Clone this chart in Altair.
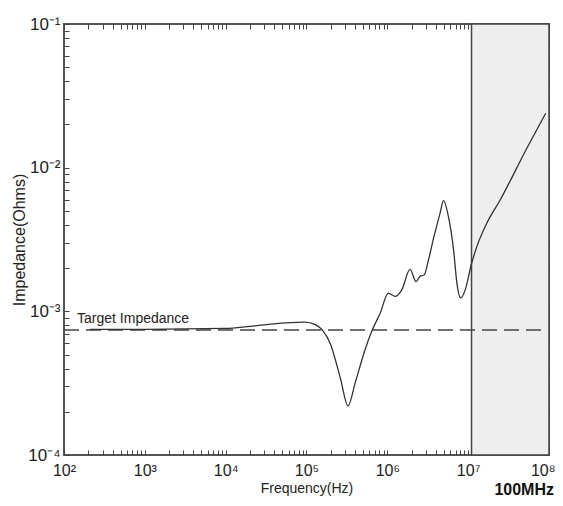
import altair as alt
import pandas as pd

# ---- data ----
freq = [210, 1000, 1e4, 2e4, 5.5e4, 9.5e4, 1.2e5, 1.6e5, 1.96e5, 2.6e5, 3.27e5,
        4e5, 5.3e5, 6.5e5, 8.15e5, 1.03e6, 1.25e6, 1.51e6, 1.91e6, 2.27e6, 2.55e6,
        2.85e6, 3.23e6, 3.69e6, 4.5e6, 4.95e6, 5.7e6, 6.6e6, 7.25e6, 8.1e6, 9.2e6,
        1.09e7, 1.28e7, 1.7e7, 2.49e7, 5.3e7, 9.1e7]
impedance = [7.5e-4, 7.5e-4, 7.6e-4, 7.85e-4, 8.3e-4, 8.4e-4, 8.2e-4, 7.3e-4, 6.0e-4, 3.5e-4, 2.2e-4,
             3.18e-4, 5.4e-4, 7.4e-4, 9.7e-4, 1.34e-3, 1.27e-3, 1.41e-3, 1.96e-3, 1.61e-3, 1.76e-3,
             1.79e-3, 2.28e-3, 3.14e-3, 4.84e-3, 5.9e-3, 4.56e-3, 2.67e-3, 1.58e-3, 1.24e-3, 1.41e-3,
             2.1e-3, 2.82e-3, 4.1e-3, 5.96e-3, 1.36e-2, 2.39e-2]

target_freq = [100, 8e7]
target_imp = [7.4e-4, 7.4e-4]

shade_start = [1.1e7]
shade_end = [1e8]
shade_low = [1e-4]
shade_high = [1e-1]

label_text = ["Target Impedance"]
label_freq = [145]
label_imp = [7.4e-4]

note_text = ["100MHz"]
note_freq = [1e8]
note_imp = [1e-4]

x_decades = [1e2, 1e3, 1e4, 1e5, 1e6, 1e7, 1e8]
x_labels = ["10²", "10³", "10⁴", "10⁵", "10⁶", "10⁷", "10⁸"]
y_decades = [1e-4, 1e-3, 1e-2, 1e-1]
y_labels = ["10⁻⁴", "10⁻³", "10⁻²", "10⁻¹"]

x_ticks = [m * d for d in x_decades[:-1] for m in range(1, 10)] + [x_decades[-1]]
y_ticks = [m * d for d in y_decades[:-1] for m in range(1, 10)] + [y_decades[-1]]


def label_expr(vals, labs):
    expr = "''"
    for v, l in reversed(list(zip(vals, labs))):
        expr = f"datum.value == {v!r} ? '{l}' : ({expr})"
    return expr


curve_df = pd.DataFrame({"f": freq, "z": impedance})
target_df = pd.DataFrame({"f": target_freq, "z": target_imp})
shade_df = pd.DataFrame({"x1": shade_start, "x2": shade_end, "y1": shade_low, "y2": shade_high})
label_df = pd.DataFrame({"f": label_freq, "z": label_imp, "t": label_text})
note_df = pd.DataFrame({"f": note_freq, "z": note_imp, "t": note_text})

xscale = alt.Scale(type="log", domain=[1e2, 1e8], nice=False)
yscale = alt.Scale(type="log", domain=[1e-4, 1e-1], nice=False)

common_axis = dict(domain=False, grid=False, tickColor="#444", tickWidth=1, tickSize=5,
                   offset=-5, labelColor="#222", labelFont="Liberation Sans",
                   titleColor="#222", titleFont="Liberation Sans", titleFontWeight="normal")

last_x = f"datum.value == {x_decades[-1]!r}"

x_axis = alt.Axis(values=x_ticks, labelExpr=label_expr(x_decades, x_labels), title="Frequency(Hz)",
                  titleFontSize=14, labelFontSize=16, labelPadding=7, titlePadding=3,
                  labelFlush=False, labelOverlap=False,
                  labelAlign={"condition": {"test": last_x, "value": "right"}, "value": "center"},
                  labelOffset={"condition": {"test": last_x, "value": 6}, "value": 0},
                  **common_axis)
y_axis = alt.Axis(values=y_ticks, labelExpr=label_expr(y_decades, y_labels), title="Impedance(Ohms)",
                  titleFontSize=16, labelFontSize=17, labelPadding=4, titlePadding=0,
                  labelFlush=False, labelOverlap=False, labelBaseline="middle", **common_axis)
x_axis_top = alt.Axis(values=x_ticks, orient="top", labels=False, title=None, **common_axis)
y_axis_right = alt.Axis(values=y_ticks, orient="right", labels=False, title=None, **common_axis)

shade = alt.Chart(shade_df).mark_rect(fill="#eeeeee", stroke="#444", strokeWidth=1.5).encode(
    x=alt.X("x1:Q", scale=xscale, axis=None),
    x2="x2:Q",
    y=alt.Y("y1:Q", scale=yscale, axis=None),
    y2="y2:Q",
)

target = alt.Chart(target_df).mark_line(color="#444", strokeWidth=1.5, strokeDash=[15, 7]).encode(
    x=alt.X("f:Q", scale=xscale, axis=x_axis_top),
    y=alt.Y("z:Q", scale=yscale, axis=y_axis_right),
)

curve = alt.Chart(curve_df).mark_line(color="#333", strokeWidth=1.3, interpolate="monotone").encode(
    x=alt.X("f:Q", scale=xscale, axis=x_axis),
    y=alt.Y("z:Q", scale=yscale, axis=y_axis),
)

label = alt.Chart(label_df).mark_text(align="left", baseline="alphabetic", dy=-7, fontSize=14,
                                      font="Liberation Sans", color="#222").encode(
    x=alt.X("f:Q", scale=xscale, axis=None),
    y=alt.Y("z:Q", scale=yscale, axis=None),
    text="t:N",
)

note = alt.Chart(note_df).mark_text(align="right", baseline="alphabetic", dx=5, dy=40, fontSize=16,
                                    fontWeight="bold", font="Liberation Sans", color="#111").encode(
    x=alt.X("f:Q", scale=xscale, axis=None),
    y=alt.Y("z:Q", scale=yscale, axis=None),
    text="t:N",
)

chart = alt.layer(shade, target, curve, label, note).resolve_axis(
    x="independent", y="independent"
).properties(
    width=485, height=431,
    autosize=alt.AutoSizeParams(type="none"),
    padding={"left": 56, "top": 16, "right": 6, "bottom": 43},
    background="white",
).configure_view(stroke="#555", strokeWidth=2)

chart.save("out.html", embed_options={"renderer": "svg", "actions": False})
